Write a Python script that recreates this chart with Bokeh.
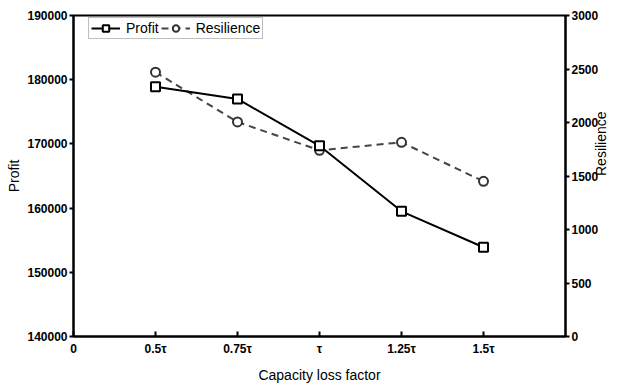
import math
from bokeh.plotting import figure
from bokeh.models import Range1d, LinearAxis, FixedTicker, Legend, LegendItem, NumeralTickFormatter
from bokeh.embed import file_html
from bokeh.resources import INLINE

# ---- data ----
x_labels = ["0.5τ", "0.75τ", "τ", "1.25τ", "1.5τ"]
x_pos = [1, 2, 3, 4, 5]
profit = [178900, 177000, 169700, 159500, 153900]
resilience = [2470, 2005, 1740, 1815, 1450]
left_ticks = [140000, 150000, 160000, 170000, 180000, 190000]
right_ticks = [0, 500, 1000, 1500, 2000, 2500, 3000]

FONT = "Liberation Sans"

p = figure(width=620, height=385, output_backend="svg", toolbar_location=None,
           x_range=Range1d(0, 6), y_range=Range1d(140000, 190000),
           min_border_left=73, min_border_right=40, min_border_top=15, min_border_bottom=46)
p.extra_y_ranges = {"res": Range1d(0, 3000)}

p.xgrid.visible = False
p.ygrid.visible = False
p.outline_line_color = "black"
p.outline_line_width = 2
p.background_fill_color = "white"
p.border_fill_color = "white"

# x axis
xa = p.xaxis[0]
xa.ticker = FixedTicker(ticks=[0] + x_pos)
xa.major_label_overrides = {0: "0", **{xp: lab for xp, lab in zip(x_pos, x_labels)}}
xa.axis_label = "Capacity loss factor"
xa.axis_label_text_font = FONT
xa.axis_label_text_font_size = "14px"
xa.axis_label_text_font_style = "normal"
xa.axis_label_text_color = "black"
xa.axis_label_standoff = 8
xa.major_label_text_font = FONT
xa.major_label_text_font_size = "12px"
xa.major_label_text_font_style = "bold"
xa.major_label_text_color = "black"
xa.major_label_standoff = 5
xa.major_tick_in = 5
xa.major_tick_out = 0
xa.minor_tick_line_color = None
xa.axis_line_width = 2
xa.major_tick_line_width = 2

# left y axis
ya = p.yaxis[0]
ya.ticker = FixedTicker(ticks=left_ticks)
ya.formatter = NumeralTickFormatter(format="0")
ya.axis_label = "Profit"
ya.axis_label_text_font = FONT
ya.axis_label_text_font_size = "14px"
ya.axis_label_text_font_style = "normal"
ya.axis_label_text_color = "black"
ya.axis_label_standoff = 2
ya.major_label_text_font = FONT
ya.major_label_text_font_size = "12px"
ya.major_label_text_font_style = "bold"
ya.major_label_text_color = "black"
ya.major_label_standoff = 2
ya.major_tick_in = 0
ya.major_tick_out = 4
ya.minor_tick_line_color = None
ya.axis_line_width = 2
ya.major_tick_line_width = 2

# right y axis
ra = LinearAxis(y_range_name="res", ticker=FixedTicker(ticks=right_ticks))
ra.formatter = NumeralTickFormatter(format="0")
ra.axis_label = "Resilience"
ra.axis_label_text_font = FONT
ra.axis_label_text_font_size = "14px"
ra.axis_label_text_font_style = "normal"
ra.axis_label_text_color = "black"
ra.axis_label_standoff = 0
ra.axis_label_orientation = math.pi / 2
ra.major_label_text_font = FONT
ra.major_label_text_font_size = "12px"
ra.major_label_text_font_style = "bold"
ra.major_label_text_color = "black"
ra.major_label_standoff = 2
ra.major_tick_in = 0
ra.major_tick_out = 4
ra.minor_tick_line_color = None
ra.axis_line_width = 2
ra.major_tick_line_width = 2
p.add_layout(ra, "right")

# series
l2 = p.line(x_pos, resilience, y_range_name="res", line_color="#444444", line_width=2,
            line_dash="7 5")
l1 = p.line(x_pos, profit, line_color="black", line_width=2)
s2 = p.scatter(x_pos, resilience, y_range_name="res", marker="circle", size=9,
               line_color="#333333", line_width=2, fill_color="white")
s1 = p.scatter(x_pos, profit, marker="square", size=9, line_color="black", line_width=2,
               fill_color="white")

legend = Legend(items=[LegendItem(label="Profit", renderers=[l1, s1]),
                       LegendItem(label="Resilience", renderers=[l2, s2])],
                orientation="horizontal", location=(15, 297))
legend.label_text_font = FONT
legend.label_text_font_size = "14px"
legend.label_text_color = "black"
legend.padding = 2
legend.spacing = 2
legend.label_standoff = 6
legend.glyph_width = 29
legend.glyph_height = 16
legend.label_height = 16
legend.margin = 0
legend.border_line_color = "#808080"
legend.border_line_width = 1
legend.background_fill_color = "white"
legend.background_fill_alpha = 1
p.add_layout(legend)

open("out.html", "w").write(file_html(p, INLINE))
